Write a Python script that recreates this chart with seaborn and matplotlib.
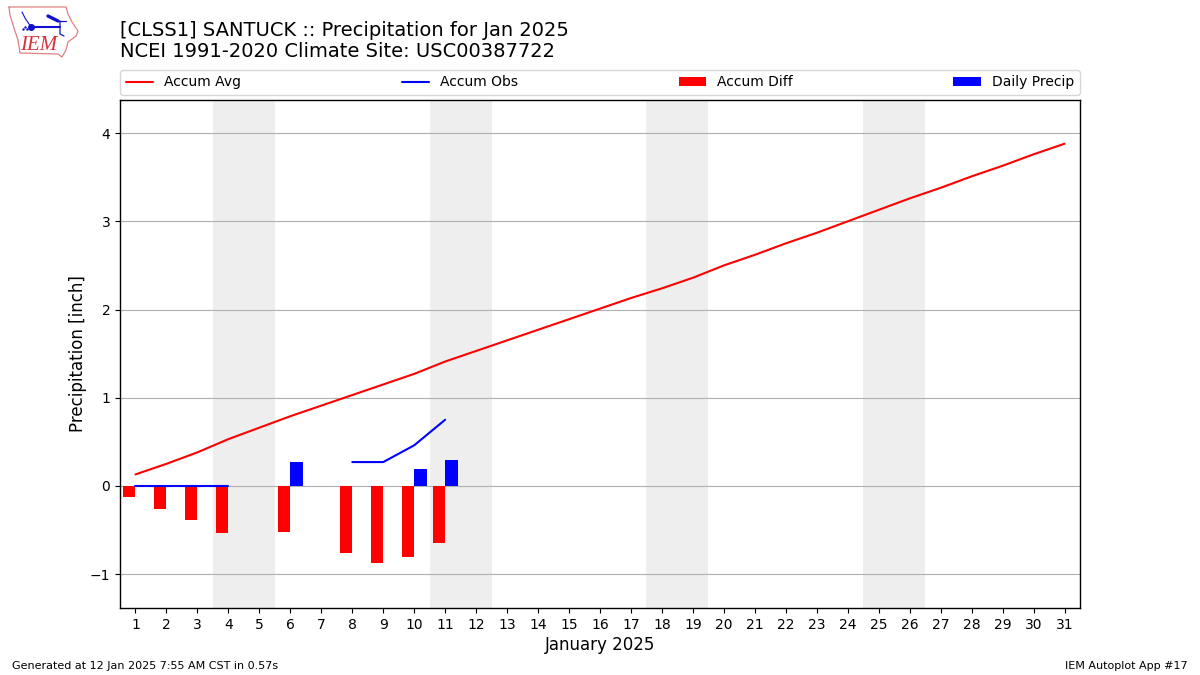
import numpy as np
import pandas as pd
import matplotlib
import matplotlib.pyplot as plt
import seaborn as sns

matplotlib.use('Agg')

# values
days = list(range(1, 32))
accum_avg = [0.13, 0.25, 0.38, 0.53, 0.66, 0.79, 0.91, 1.03, 1.15, 1.27, 1.41,
             1.53, 1.65, 1.77, 1.89, 2.01, 2.13, 2.24, 2.36, 2.50, 2.62, 2.75,
             2.87, 3.00, 3.13, 3.26, 3.38, 3.51, 3.63, 3.76, 3.88]
obs_days_a = [1, 2, 3, 4]
obs_vals_a = [0.0, 0.0, 0.0, 0.0]
obs_days_b = [8, 9, 10, 11]
obs_vals_b = [0.27, 0.27, 0.46, 0.75]
diff_days = [1, 2, 3, 4, 6, 8, 9, 10, 11]
diff_vals = [-0.125, -0.26, -0.385, -0.53, -0.52, -0.76, -0.87, -0.805, -0.645]
precip_days = [6, 10, 11]
precip_vals = [0.27, 0.19, 0.29]
weekends = [(3.5, 5.5), (10.5, 12.5), (17.5, 19.5), (24.5, 26.5)]

sns.set_style('ticks')
# seaborn's style greys the text and spines, the reference has them black
plt.rcParams.update({'axes.linewidth': 1.0, 'text.color': 'black', 'axes.labelcolor': 'black',
                     'axes.edgecolor': 'black', 'xtick.color': 'black', 'ytick.color': 'black'})

fig = plt.figure(figsize=(12, 6.75), dpi=100)
ax = fig.add_axes([120 / 1200, 1 - 608 / 675, 960 / 1200, 508 / 675])

for start, end in weekends:
    ax.axvspan(start, end, color='#eeeeee', lw=0, zorder=0)

# bars, dodged either side of the day
bars = pd.DataFrame({
    'day': diff_days + precip_days,
    'value': diff_vals + precip_vals,
    'series': ['Accum Diff'] * len(diff_days) + ['Daily Precip'] * len(precip_days),
})
sns.barplot(data=bars, x='day', y='value', hue='series', native_scale=True,
            hue_order=['Accum Diff', 'Daily Precip'],
            palette={'Accum Diff': 'red', 'Daily Precip': 'blue'},
            width=0.8, gap=0, saturation=1, errorbar=None, ax=ax, zorder=3,
            linewidth=0)

sns.lineplot(x=days, y=accum_avg, color='red', lw=1.5, ax=ax, zorder=4,
             label='Accum Avg', errorbar=None)
sns.lineplot(x=obs_days_a, y=obs_vals_a, color='blue', lw=1.5, ax=ax, zorder=4,
             label='Accum Obs', errorbar=None)
sns.lineplot(x=obs_days_b, y=obs_vals_b, color='blue', lw=1.5, ax=ax, zorder=4,
             errorbar=None)

ax.set_xlim(0.5, 31.5)
ax.set_ylim(-1.385, 4.376)
ax.set_xticks(days)
ax.set_yticks([-1, 0, 1, 2, 3, 4])
ax.set_yticklabels(['\u22121', '0', '1', '2', '3', '4'])
ax.tick_params(labelsize=10, length=3.5, width=0.8)
ax.grid(True, axis='y', color='#b0b0b0', lw=0.8, zorder=1)
ax.set_axisbelow(True)
ax.set_xlabel('January 2025', fontsize=12, labelpad=3)
ax.set_ylabel('Precipitation [inch]', fontsize=12, labelpad=2)

handles, labels = ax.get_legend_handles_labels()
lookup = dict(zip(labels, handles))
order = ['Accum Avg', 'Accum Obs', 'Accum Diff', 'Daily Precip']
ax.legend([lookup[k] for k in order], order, ncol=4, mode='expand',
          loc='lower left', bbox_to_anchor=(0, 1 + 5 / 508, 1, 0.05), borderaxespad=0,
          fontsize=10, frameon=True)

fig.text(120 / 1200, 1 - 61 / 675, '[CLSS1] SANTUCK :: Precipitation for Jan 2025\n'
         'NCEI 1991-2020 Climate Site: USC00387722', fontsize=14, va='bottom',
         ha='left', linespacing=1.1)
fig.text(12 / 1200, 1 - 666 / 675, 'Generated at 12 Jan 2025 7:55 AM CST in 0.57s',
         fontsize=8, va='center', ha='left')
fig.text(1188 / 1200, 1 - 666 / 675, 'IEM Autoplot App #17',
         fontsize=8, va='center', ha='right')

# logo, rough sketch of the IEM mark
logo = fig.add_axes([0, 1 - 60 / 675, 90 / 1200, 60 / 675])
logo.set_xlim(0, 90)
logo.set_ylim(60, 0)
logo.axis('off')
outline_x = [9, 66, 68, 72, 78, 76, 68, 66, 62, 58, 20, 18, 14, 10, 9]
outline_y = [7, 7, 14, 22, 31, 36, 42, 50, 57, 54, 53, 40, 28, 15, 7]
logo.plot(outline_x, outline_y, color='#e08080', lw=0.9)
logo.plot([31, 60], [27, 27], color='#1010d0', lw=1.5)
logo.plot([31], [27], 'o', color='#1010d0', ms=4)
logo.plot([31, 25, 22], [27, 18, 12], color='#1010d0', lw=0.8)
logo.plot([48, 58], [16, 21], color='#1010d0', lw=2.4)
logo.plot([58, 66], [21, 21], color='#1010d0', lw=0.9)
logo.plot([60, 60, 64], [21, 34, 36], color='#1010d0', lw=0.9)
logo.plot([23, 25, 27], [29, 27, 29], '.', color='#1010d0', ms=1.5)
logo.text(20, 45, 'IEM', family='Liberation Serif', style='italic', color='#d8303a',
          fontsize=15, va='center', ha='left')

fig.savefig('out.png', dpi=100)
